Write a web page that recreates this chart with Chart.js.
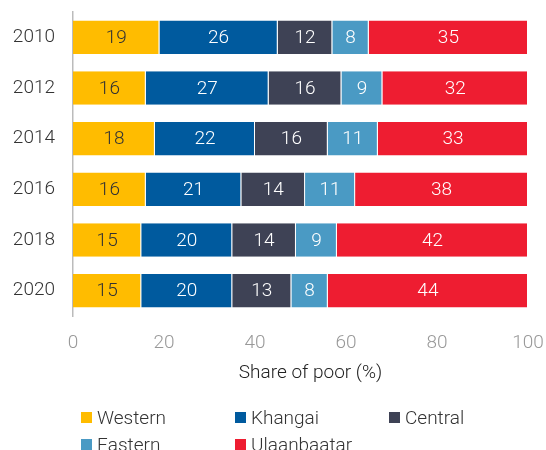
<!DOCTYPE html>
<html>
<head>
<meta charset="utf-8">
<script src="https://cdn.jsdelivr.net/npm/chart.js@4"></script>
<style>
  html, body { margin:0; padding:0; background:#fff; overflow:hidden; }
  #wrap { position:relative; width:546px; height:450px; }
  #legend { position:absolute; left:81px; top:406px; display:grid; grid-template-columns:154px 154px 154px; row-gap:5px;
    font-family:Roboto, sans-serif; font-weight:300; font-size:19px; color:#333; }
  #legend div { display:flex; align-items:center; height:22px; white-space:nowrap; }
  #legend span.box { display:inline-block; width:11px; height:11px; margin-right:5px; }
</style>
</head>
<body>
<div id="wrap">
  <canvas id="chart" width="546" height="450"></canvas>
  <div id="legend"></div>
</div>
<script>
const years = ['2010','2012','2014','2016','2018','2020'];
const regions = ['Western','Khangai','Central','Eastern','Ulaanbaatar'];
const western = [19,16,18,16,15,15];
const khangai = [26,27,22,21,20,20];
const central = [12,16,16,14,14,13];
const eastern = [8,9,11,11,9,8];
const ulaanbaatar = [35,32,33,38,42,44];
const xTicks = [0,20,40,60,80,100];
const xTitle = 'Share of poor (%)';

const colors = ['#FFBC00','#005A9E','#3E4255','#4A9AC4','#EE1D31'];
const labelColors = ['#333','#fff','#fff','#fff','#fff'];
const values = [western, khangai, central, eastern, ulaanbaatar];
const FONT = 'Roboto, sans-serif';

// numbers inside each segment
const segLabels = {
  id:'segLabels',
  afterDatasetsDraw(chart){
    const ctx = chart.ctx;
    ctx.save();
    ctx.font = '300 19px ' + FONT;
    ctx.textAlign = 'center';
    ctx.textBaseline = 'middle';
    chart.data.datasets.forEach((ds, i) => {
      const meta = chart.getDatasetMeta(i);
      meta.data.forEach((el, j) => {
        const p = el.getProps(['x','base','y'], true);
        ctx.fillStyle = labelColors[i];
        ctx.fillText(String(ds.data[j]), (p.x + p.base)/2, p.y + 1);
      });
    });
    ctx.restore();
  }
};

// x axis title, sits a bit right of the plot centre like the original
const axisTitle = {
  id:'axisTitle',
  afterDraw(chart){
    const { ctx, chartArea } = chart;
    ctx.save();
    ctx.font = '300 19px ' + FONT;
    ctx.fillStyle = '#222';
    ctx.textAlign = 'center';
    ctx.textBaseline = 'middle';
    ctx.fillText(xTitle, (chartArea.left + chartArea.right)/2 + 10, chartArea.bottom + 57);
    ctx.restore();
  }
};

new Chart(document.getElementById('chart'), {
  type:'bar',
  data:{
    labels: years,
    datasets: regions.map((r, i) => ({
      label: r,
      data: values[i],
      backgroundColor: colors[i],
      borderColor: 'rgba(255,255,255,0.25)',
      borderWidth: { left:0, right:1, top:0, bottom:0 },
      borderSkipped: false,
      categoryPercentage: 1,
      barPercentage: 0.66
    }))
  },
  options:{
    indexAxis:'y',
    responsive:false,
    animation:false,
    layout:{ padding:{ top:12, right:18, left:0, bottom:64 } },
    plugins:{ legend:{ display:false }, tooltip:{ enabled:false } },
    scales:{
      x:{
        stacked:true, min:0, max:100,
        afterBuildTicks(s){ s.ticks = xTicks.map(v => ({ value:v })); },
        afterFit(s){ s.height = 70; s.paddingLeft = 0; s.paddingRight = 0; },
        grid:{ display:false, drawTicks:false },
        border:{ display:false },
        ticks:{ color:'#999', padding:16, font:{ family:FONT, size:19, weight:300 } }
      },
      y:{
        stacked:true,
        afterFit(s){ s.width = 73; s.paddingTop = 0; s.paddingBottom = 0; },
        grid:{ display:false, drawTicks:false },
        border:{ display:true, color:'#bbb', width:1.5 },
        ticks:{ color:'#333', padding:18, font:{ family:FONT, size:19, weight:300 } }
      }
    }
  },
  plugins:[segLabels, axisTitle]
});

const legend = document.getElementById('legend');
regions.forEach((r, i) => {
  const d = document.createElement('div');
  d.innerHTML = `<span class="box" style="background:${colors[i]}"></span>${r}`;
  legend.appendChild(d);
});
</script>
</body>
</html>
